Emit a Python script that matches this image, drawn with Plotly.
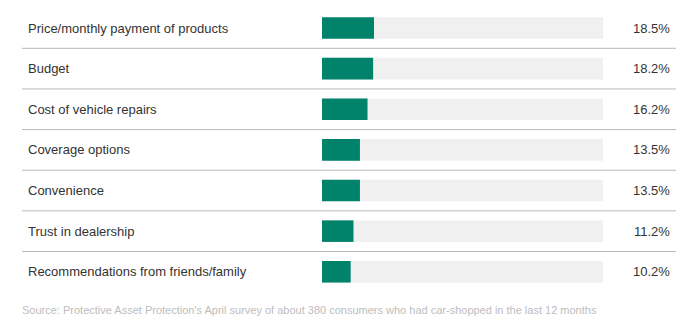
import plotly.graph_objects as go

categories = [
    "Price/monthly payment of products",
    "Budget",
    "Cost of vehicle repairs",
    "Coverage options",
    "Convenience",
    "Trust in dealership",
    "Recommendations from friends/family",
]
values = [18.5, 18.2, 16.2, 13.5, 13.5, 11.2, 10.2]
value_labels = ["18.5%", "18.2%", "16.2%", "13.5%", "13.5%", "11.2%", "10.2%"]
source_text = ("Source: Protective Asset Protection's April survey of about 380 consumers "
               "who had car-shopped in the last 12 months")

W, H = 699, 324
row_h = 40.63
first_center = 28.0
pos = list(range(len(categories)))

y_top = -first_center / row_h
y_bot = y_top + H / row_h

fig = go.Figure()
fig.add_trace(go.Bar(
    x=[100] * len(categories), y=pos, orientation="h",
    marker=dict(color="#f0f0f0", line=dict(width=0)),
    width=0.53, hoverinfo="skip", showlegend=False,
))
fig.add_trace(go.Bar(
    x=values, y=pos, orientation="h",
    marker=dict(color="#00826b", line=dict(width=0)),
    width=0.53, showlegend=False,
))

annotations = []
for i, (c, v) in enumerate(zip(categories, value_labels)):
    annotations.append(dict(
        x=26 / W, xref="paper", y=i, yref="y", text=c, showarrow=False,
        xanchor="left", yanchor="middle",
        font=dict(family="Liberation Sans, Arial", size=13, color="#333333"),
    ))
    annotations.append(dict(
        x=672 / W, xref="paper", y=i, yref="y", text=v, showarrow=False,
        xanchor="right", yanchor="middle",
        font=dict(family="Liberation Sans, Arial", size=13, color="#333333"),
    ))
annotations.append(dict(
    x=20 / W, xref="paper", y=1 - 310 / H, yref="paper", text=source_text,
    showarrow=False, xanchor="left", yanchor="middle",
    font=dict(family="Liberation Sans, Arial", size=11, color="#bdbdbd"),
))

shapes = []
for i in range(len(categories) - 1):
    shapes.append(dict(
        type="line", xref="paper", yref="y",
        x0=22 / W, x1=676 / W, y0=i + 0.5, y1=i + 0.5,
        line=dict(color="#b8b8b8", width=1),
    ))

fig.update_layout(
    width=W, height=H,
    margin=dict(l=0, r=0, t=0, b=0),
    paper_bgcolor="white", plot_bgcolor="white",
    barmode="overlay",
    xaxis=dict(domain=[322 / W, 603 / W], range=[0, 100], visible=False, fixedrange=True),
    yaxis=dict(range=[y_bot, y_top], visible=False, fixedrange=True),
    annotations=annotations,
    shapes=shapes,
)

fig.write_html("out.html")
